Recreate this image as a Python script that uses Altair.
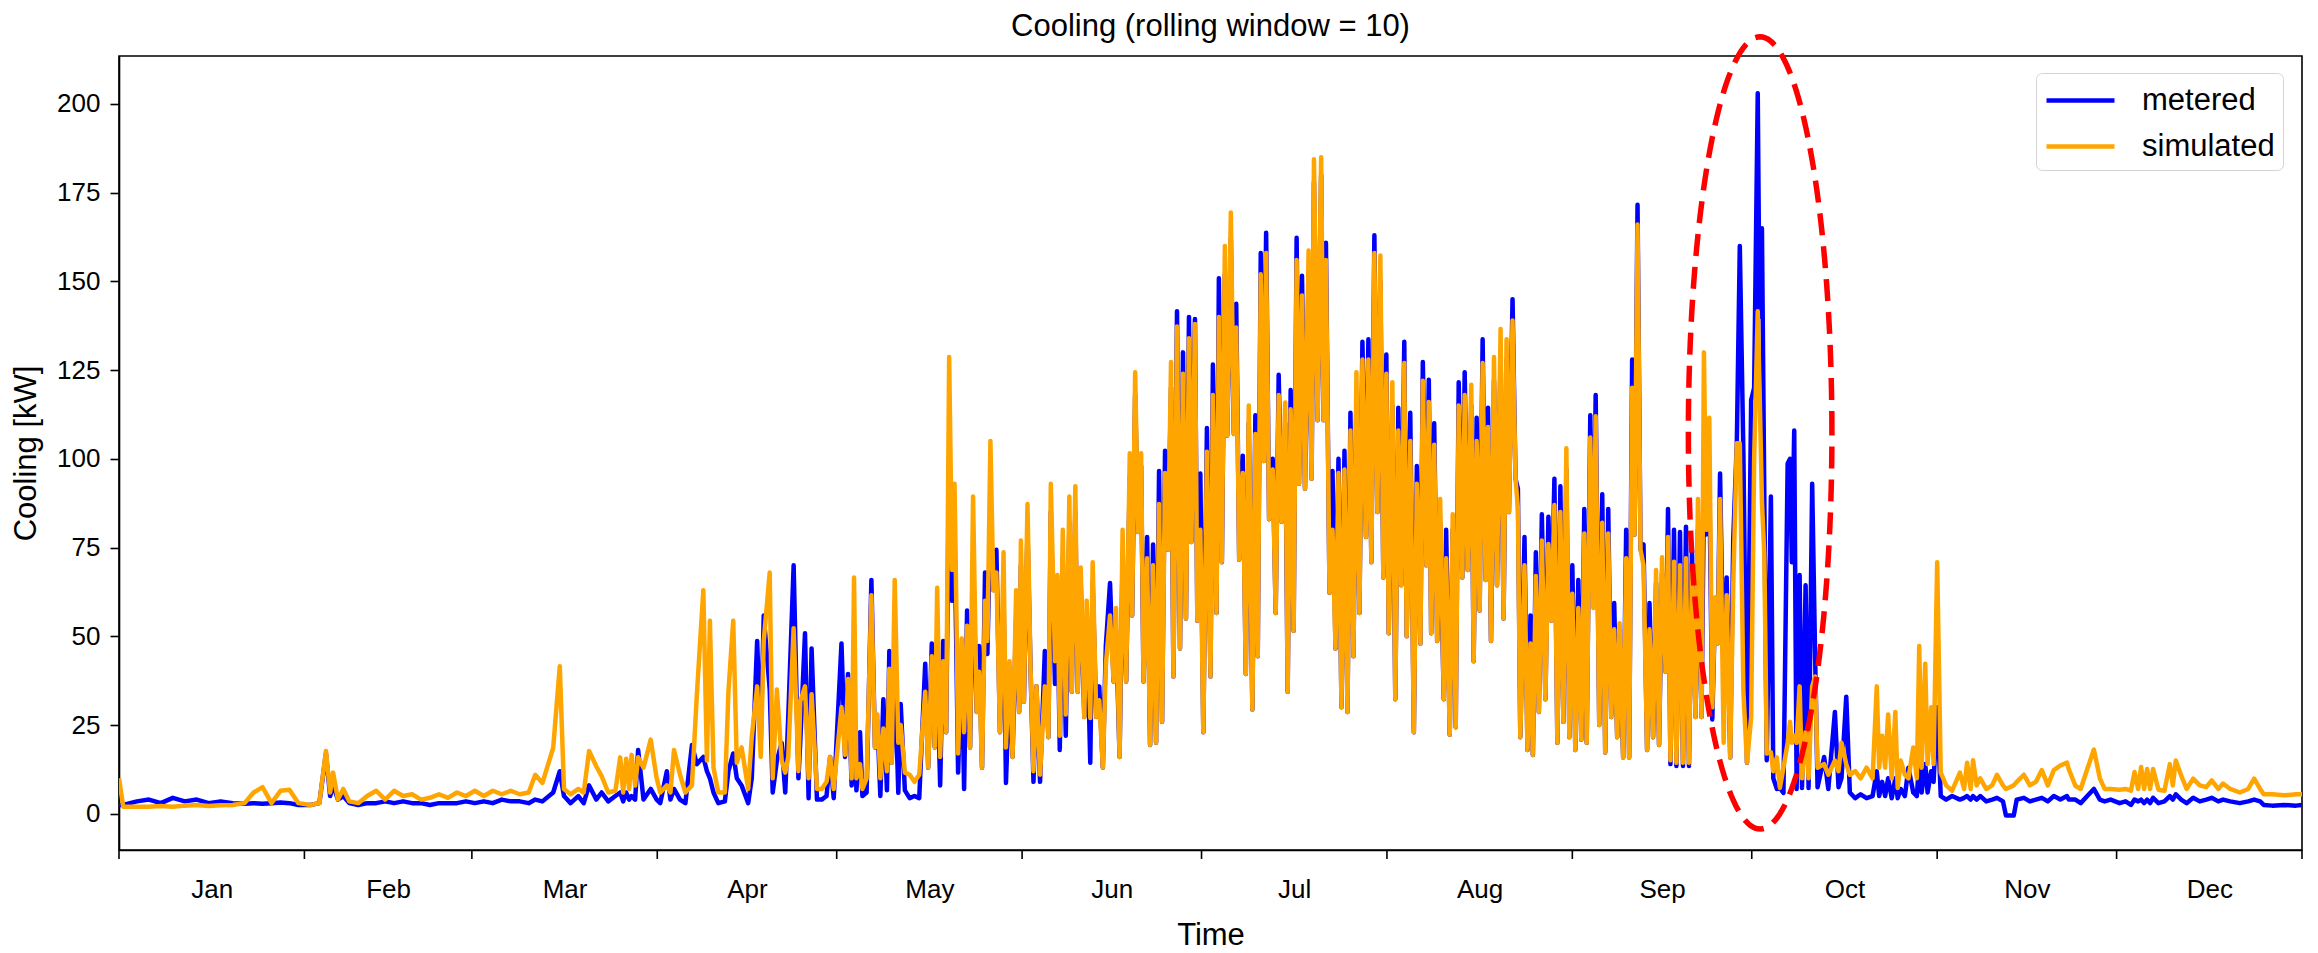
import altair as alt
import pandas as pd

# ---- data (day of year, kW) ----
day_jan = [0, 0.7, 3, 5, 7, 9, 11, 13, 15, 17, 19, 21, 22.5, 24, 25.5, 27, 28.5, 30]
met_jan = [2.5, 2.5, 3.5, 4, 3, 4.5, 3.5, 4, 3, 3.5, 3, 2.8, 3, 2.8, 3, 3.2, 3, 2.5]
sim_jan = [10, 2, 2, 2, 2.2, 2, 2.3, 2.5, 2.2, 2.4, 2.5, 3, 6, 7.5, 3, 6.5, 6.8, 3]

day_feb = [32, 33.5, 34.6, 35.3, 35.8, 36.6, 37.5, 38.5, 40, 41.5, 43, 44.5, 46, 47.5, 49, 50.5, 52, 53.5, 55, 56.5, 58]
met_feb = [2.5, 3, 17, 5, 8, 4, 5, 3, 2.5, 3, 3, 3.5, 3, 3.5, 3, 3, 2.5, 3, 3, 3, 3.5]
sim_feb = [2.5, 3, 17.7, 6, 11.6, 4, 7, 3.5, 3, 5, 6.5, 4, 6.5, 5, 5.5, 4, 4.5, 5.5, 4.5, 6, 5]

day_mar = [59.5, 61, 62.5, 64, 65.5, 67, 68.5, 69.6, 70.8, 72.6, 73.7, 74.4, 75.5, 76.8, 77.7, 78.6, 79.8, 80.7,
           81.8, 83, 83.8, 84.3, 84.8, 85.3, 85.7, 86.3, 86.8, 87.7, 88.9, 89.9]
met_mar = [3, 3.5, 3, 4, 3.5, 3.5, 3, 4, 3.5, 6, 12, 5, 3, 5, 3, 8, 4, 6,
           3.5, 5, 6, 3.5, 6, 4, 5, 4, 18, 4, 7, 4]
sim_mar = [6.5, 5, 6.5, 5.5, 6.5, 5.5, 6, 11, 8.7, 18.6, 41.6, 7, 5.5, 7, 6, 17.7, 13.4, 10.6,
           6, 6.5, 15.9, 6, 15.5, 7, 16.6, 8, 15.9, 13, 20.9, 10]

day_apr = [90.5, 91.6, 92.2, 92.8, 93.8, 94.7, 95.8, 96.6, 97.7, 98.3, 98.8, 99.4, 100.2, 101.3, 101.9, 102.7,
           103.3, 104.1, 105.2, 105.8, 106.7, 107.3, 107.8, 108.8, 109.3, 110, 110.8, 111.4, 111.9, 112.8,
           113.6, 113.9, 114.7, 115.3, 115.8, 116.7, 117.5, 118.3, 118.9, 119.5]
met_apr = [3, 12, 4, 7, 4, 3, 19.4, 14, 16, 12, 10, 6, 3, 3.5, 12, 17,
           10, 8, 3, 10, 48.7, 20, 55.9, 35, 6, 15, 20, 6, 27.3, 70,
           10, 20, 50.9, 4.4, 46.6, 4, 4, 5, 16, 4.4]
sim_apr = [6, 8, 6, 18, 11, 6, 8, 33, 63, 15, 54.4, 13, 6, 6, 34.4, 54.4,
           14.4, 18.7, 7, 21.6, 35.9, 16, 48.7, 68, 10, 35, 15, 11.6, 16, 52.3,
           12, 31.6, 35.9, 10, 33.7, 7, 7, 9, 16, 7]

day_may = [120.8, 121.4, 121.9, 122.5, 122.9, 123.3, 123.9, 124.3, 125, 125.8, 126.4, 126.8, 127.3, 127.8,
           128.4, 128.8, 129.2, 129.7, 130.3, 130.7, 131.4, 132.2, 133, 133.8, 134.8, 135.3, 135.9, 136.4,
           136.8, 137.3, 137.8, 138.3, 138.8, 139.3, 139.7, 140.1, 140.3, 140.9, 141.3, 141.8, 142.3, 142.8,
           143.4, 143.8, 144.3, 144.8, 145.2, 145.7, 146.2, 146.7, 147.3, 147.9, 148.3, 148.9, 149.4, 150, 150.5]
met_may = [48, 16, 39.4, 8, 30, 6.6, 23, 5, 6, 65.9, 18.7, 26, 5, 32.3,
           6.6, 45.9, 14.4, 40, 5.9, 30.9, 6.6, 4.4, 5, 4.4, 42.3, 13, 48, 18.7,
           40, 8, 48.7, 23, 100, 60, 80, 35, 11.6, 45, 7, 57.3, 18.7, 70,
           28.7, 47.3, 13, 68, 45, 85, 63, 74.4, 23, 62, 8.7, 38, 16, 55, 28.7]
sim_may = [30, 16.6, 38, 10, 66.6, 10, 14, 7, 10, 61.6, 18.7, 28, 10, 24,
           12, 40.9, 14.4, 65.9, 20, 25, 11.6, 11, 9, 11, 34.4, 13, 44.4, 18.7,
           63.7, 16, 43, 23, 128.7, 68.7, 93, 47, 17, 49.4, 23, 53, 18.7, 89.4,
           28.7, 40, 13, 60, 48.7, 105, 63, 68, 23, 73.7, 18.7, 43, 16, 63, 28.7]

day_jun = [150.8, 151.3, 151.9, 152.4, 152.9, 153.4, 154, 154.8, 155.4, 155.8, 156.5, 156.9, 157.3, 157.8,
           158.3, 158.9, 159.3, 159.9, 160.3, 160.8, 161.4, 161.8, 162.4, 162.8, 163.4, 163.9, 164.5, 165,
           165.7, 166.3, 166.7, 167.3, 167.8, 168.4, 169, 169.4, 169.9, 170.4, 170.9, 171.3, 171.9, 172.4,
           172.9, 173.4, 173.9, 174.4, 174.9, 175.4, 175.9, 176.3, 176.9, 177.4, 177.9, 178.4, 178.9, 179.3,
           179.9, 180.3, 180.8]
met_jun = [70, 31.6, 80, 41.6, 9, 35.9, 9, 45.9, 21.6, 85, 36.6, 60, 18, 72,
           22, 82, 34.4, 85, 34.4, 65, 27.3, 55, 14.4, 65, 27.3, 35.9, 13, 47.3,
           65, 37.3, 52, 16, 72, 37.3, 95, 55.9, 118, 79.4, 98, 37.3, 78, 19.4,
           75.9, 20, 96.6, 25.9, 102.3, 74.4, 120, 38.7, 141.6, 46.6, 130, 55, 140, 76.6,
           139.4, 54.4, 95.9]
sim_jun = [77, 31.6, 87.3, 41.6, 12, 35.9, 11, 35.9, 21.6, 93, 43, 67.3, 22, 80,
           28, 89.4, 34.4, 92.3, 34.4, 69.4, 27.3, 60, 27, 70.9, 27.3, 32, 13, 42,
           55.9, 37.3, 58, 16, 80, 37.3, 101.6, 55.9, 124.4, 79.4, 101.6, 37.3, 72, 19.4,
           70, 20, 87.3, 25.9, 96, 74.4, 127.3, 38.7, 137.3, 46.6, 124, 55, 134, 76.6,
           138, 54.4, 80]

day_jul = [181.3, 181.9, 182.5, 182.9, 183.5, 183.9, 184.4, 184.9, 185.3, 185.9, 186.4, 186.8, 187.3, 187.9,
           188.4, 188.9, 189.5, 190, 190.4, 190.9, 191.4, 191.8, 192.3, 192.9, 193.4, 193.9, 194.4, 195,
           195.4, 195.9, 196.4, 196.9, 197.3, 197.8, 198.3, 198.9, 199.4, 199.8, 200.4, 201, 201.4, 201.8,
           202.4, 202.9, 203.4, 203.9, 204.4, 204.9, 205.4, 205.9, 206.4, 206.9, 207.4, 207.9, 208.5, 208.9,
           209.4, 209.9, 210.4, 210.9, 211.4, 211.9]
met_jul = [23, 108.7, 38.7, 126.6, 56.6, 150.9, 70.9, 152, 106.6, 162, 107, 143.7, 71.6, 100.9,
           39.4, 110, 29.4, 112.3, 44.4, 158, 99.4, 163.7, 83, 100, 56.6, 123.7, 82.3, 110,
           34.4, 119.4, 51.6, 162.3, 93, 151.6, 91.6, 152, 94.4, 178, 110.9, 180, 110.9, 160.9,
           62.3, 96.6, 46.6, 100, 30, 102.3, 28.7, 113, 44.4, 118, 56.6, 133, 78, 133.7,
           70.9, 163, 85, 150, 66.6, 129.4]
sim_jul = [23, 102, 38.7, 118, 56.6, 140, 70.9, 160, 106.6, 169.4, 107, 137, 71.6, 96,
           39.4, 115, 29.4, 107, 44.4, 152, 99.4, 158, 83, 97, 56.6, 118, 82.3, 115.9,
           34.4, 114, 51.6, 156, 93, 146, 91.6, 158.7, 94.4, 184.4, 110.9, 185, 110.9, 156,
           62.3, 80, 46.6, 96, 30, 97, 28.7, 108, 44.4, 124.4, 56.6, 128, 78, 128,
           70.9, 158, 85, 157.3, 66.6, 124]

day_aug = [212.3, 212.9, 213.4, 213.9, 214.4, 214.9, 215.3, 215.9, 216.5, 217, 217.6, 218, 218.6, 219,
           219.4, 219.9, 220.4, 220.9, 221.5, 221.9, 222.5, 223, 223.5, 224, 224.6, 225, 225.5, 226.1,
           226.5, 227, 227.5, 228, 228.5, 228.9, 229.4, 229.9, 230.4, 231, 231.5, 232, 232.4, 233,
           233.5, 233.9, 234.3, 235, 235.5, 236, 236.4, 236.9, 237.4, 237.9, 238.5, 239, 239.5, 240,
           240.5, 241, 241.5, 242, 242.5]
met_aug = [50.9, 115, 32.3, 114.4, 64.4, 133, 50, 113, 23, 98, 48, 127.3, 70, 122.3,
           50.9, 110, 48.7, 82, 32.3, 80, 22.3, 80, 24.4, 121.6, 66.6, 124.4, 68.7, 115,
           43, 111.6, 57.3, 133.7, 65.9, 114.4, 48.7, 122, 64.4, 130, 55, 128, 85, 145,
           94.4, 91.6, 21.6, 78, 18, 55.9, 16.6, 73.7, 28.7, 84.4, 32.3, 83.7, 54.4, 94.4,
           20, 92.3, 25.9, 97, 21.6]
sim_aug = [50.9, 121.6, 32.3, 108, 64.4, 127, 50, 105, 23, 93, 48, 122, 70, 116,
           50.9, 104, 48.7, 88.7, 32.3, 72, 22.3, 84.4, 24.4, 115, 66.6, 118, 68.7, 120.9,
           43, 105, 57.3, 127, 65.9, 109, 48.7, 128.7, 64.4, 136.6, 55, 133.7, 85, 139,
           94.4, 86, 21.6, 70, 18, 48, 16.6, 67, 28.7, 77, 32.3, 76, 54.4, 87,
           20, 85, 25.9, 103, 21.6]

day_sep = [243, 243.5, 244, 244.5, 245, 245.4, 246, 246.5, 246.9, 247.5, 248, 248.5, 249, 249.5,
           250, 250.5, 250.9, 251.5, 252, 252.5, 253, 253.4, 253.9, 254.4, 254.9, 255.5, 255.9, 256.5,
           257, 257.5, 258, 258.6, 259, 259.4, 260, 260.4, 261, 261.5, 262, 262.5, 263, 263.6,
           264, 264.6, 265, 265.4, 265.9, 266.4, 266.9, 267.3, 267.7, 268.3, 268.8, 269.4, 269.9, 270.5,
           271, 271.6, 272.2, 272.9]
met_sep = [70, 18, 65.9, 20.9, 85.9, 20, 112.3, 60, 118, 25, 90, 17.3, 85.9, 27.3,
           59.4, 21.6, 50, 15.9, 80, 15.9, 128, 78.7, 171.6, 74.4, 75.9, 18, 59.4, 21.6,
           65, 19.4, 68, 40, 85.9, 14, 80, 13.5, 79.4, 13.5, 80.9, 13.5, 74.4, 27.3,
           80, 27.3, 90, 78.7, 95, 26.6, 60.9, 48, 95.9, 37.3, 66.6, 15.9, 77.3, 104.4,
           160, 101.6, 14.4, 116.6]
sim_sep = [62, 18, 58, 20.9, 79, 20, 106, 58, 112, 25, 82, 17.3, 79, 27.3,
           52, 21.6, 53.7, 15.9, 72, 15.9, 120, 78.7, 166, 74.4, 70, 18, 52, 21.6,
           68.7, 19.4, 72.3, 40, 78, 15.1, 71, 14.4, 70, 14.4, 72, 14.4, 68, 27.3,
           88.7, 27.3, 130, 80, 111.6, 30, 60.9, 48, 88.7, 20, 61.6, 15.9, 64.4, 104.4,
           104.4, 34.4, 14.4, 27.3]

day_oct = [273.4, 274, 274.3, 274.7, 275.1, 275.5, 276.2, 276.6, 277.2, 277.7, 278.3, 279, 279.4, 279.7,
           280.1, 280.5, 281, 281.4, 282, 282.5, 283.1, 283.6, 284, 285.1, 285.8, 286.9, 287.5, 288,
           288.8, 289.4, 290.3, 291.2, 292.2, 293.2, 293.9, 294.3, 294.8, 295.3, 295.8, 296.4, 297, 297.4,
           297.9, 298.6, 299.2, 300, 300.6, 301, 301.4, 302, 302.4, 303, 303.4, 304, 304.6]
met_oct = [120, 203, 140, 165, 88.7, 15.1, 89.4, 10, 7, 7.3, 5.9, 98.7, 100, 70.9,
           108, 7, 67.3, 7.3, 64.4, 7.3, 93, 43.7, 7.5, 16, 7, 28.7, 7.5, 10,
           33, 6, 4.4, 5.5, 4.4, 5, 12, 5, 9, 5, 10, 4.4, 10, 4.4,
           7, 5, 13, 6, 5, 15, 6, 14, 6, 12, 9, 30, 5]
sim_oct = [100, 141.6, 120, 88, 73, 17, 17.3, 12, 15.9, 7.3, 13, 20, 25.9, 20,
           22, 20, 35.9, 10, 23, 10, 35.9, 38.7, 13, 14, 11, 15, 12, 20,
           14, 11, 12, 10, 13, 10, 35.9, 13, 22, 13, 28, 10, 28.7, 7.3,
           15, 11, 10, 18.7, 10, 47.3, 13, 42.3, 14, 30, 14, 70.9, 11.6]

day_nov = [305.5, 306.5, 307.8, 308.5, 309, 309.6, 310, 310.6, 311.2, 312.2, 313.2, 314, 315, 315.5,
           316.8, 317.3, 318.5, 319.5, 320.5, 321.5, 322.5, 323.5, 324.6, 325.7, 326, 327.1, 328, 329.1,
           330.2, 331.2, 332, 333]
met_nov = [4, 5, 4, 4.5, 5, 4, 5, 4, 5, 3.5, 4, 4.5, 3.5, -0.5,
           -0.5, 4, 4.5, 3.5, 4, 4.5, 3.5, 5, 4, 5, 4, 4, 3, 5,
           7, 4, 3.5, 4]
sim_nov = [8, 6.5, 11.6, 7, 14.4, 7, 15.1, 8, 10, 7, 8, 11, 8, 7,
           8, 9, 11, 8, 9, 12.3, 8, 12.3, 13.6, 14.4, 12.6, 7.9, 7, 12.6,
           18.1, 10, 7, 7]

day_dec = [334.5, 335.5, 336.4, 337, 337.6, 338.1, 338.6, 339.1, 339.6, 340.1, 341, 342, 342.9, 343.4,
           343.9, 344.8, 345.7, 346.8, 347.9, 349, 349.9, 351, 351.8, 353, 354.6, 356, 357, 358,
           358.6, 360, 362, 364, 365]
met_dec = [3, 3.5, 2.5, 4, 3.5, 4, 3, 4, 3, 4.5, 3, 3.5, 5, 4,
           5.5, 4, 3, 4.5, 3.5, 4, 4.5, 3.5, 4, 3.5, 3, 3.5, 4, 3.5,
           2.5, 2.3, 2.5, 2.3, 2.5]
sim_dec = [6.8, 7, 6.5, 11.8, 7, 13.2, 7, 12.6, 7, 12.6, 6.8, 6.5, 14, 8,
           15, 10.8, 7, 9.9, 8, 7.5, 9.4, 7, 8.5, 7, 6, 7, 9.9, 7,
           5.5, 5.5, 5.2, 5.5, 5.5]

# texts, axis labels / ticks
chart_title = "Cooling (rolling window = 10)"
month_names = ["Jan", "Feb", "Mar", "Apr", "May", "Jun", "Jul", "Aug", "Sep", "Oct", "Nov", "Dec"]
month_starts = [0, 31, 59, 90, 120, 151, 181, 212, 243, 273, 304, 334, 365]
y_ticks = [0, 25, 50, 75, 100, 125, 150, 175, 200]

# annotation ellipse (data units: centre day, centre kW, half-width days, half-height kW)
ell_cx, ell_cy, ell_a, ell_b = 274.4, 107.3, 12.0, 111.6

# ---- build table ----
months = [
    (day_jan, met_jan, sim_jan), (day_feb, met_feb, sim_feb), (day_mar, met_mar, sim_mar),
    (day_apr, met_apr, sim_apr), (day_may, met_may, sim_may), (day_jun, met_jun, sim_jun),
    (day_jul, met_jul, sim_jul), (day_aug, met_aug, sim_aug), (day_sep, met_sep, sim_sep),
    (day_oct, met_oct, sim_oct), (day_nov, met_nov, sim_nov), (day_dec, met_dec, sim_dec),
]
rows = []
for series, idx in (("metered", 1), ("simulated", 2)):
    for grp in months:
        n = min(len(grp[0]), len(grp[1]), len(grp[2]))
        for i in range(n):
            rows.append({"day": grp[0][i], "series": series, "value": grp[idx][i]})
df = pd.DataFrame(rows)

mid_days = [(month_starts[i] + month_starts[i + 1]) / 2 for i in range(12)]
label_expr = "[" + ",".join(f"'{m}'" for m in month_names) + "][floor(datum.value / 30.42)]"

W, H = 2183, 794
FONT = "Liberation Sans"
LW = 4.5

xscale = alt.Scale(domain=[0, 365], nice=False, zero=False)
yscale = alt.Scale(domain=[-10.2, 213.5], nice=False, zero=False)
color = alt.Color(
    "series:N",
    scale=alt.Scale(domain=["metered", "simulated"], range=["#0000ff", "#ffa500"]),
    legend=alt.Legend(
        orient="none", legendX=1917, legendY=17, title=None,
        symbolType="M-1,0H3", symbolSize=1156, symbolStrokeWidth=4.5,
        labelFontSize=31, labelFont=FONT, labelOffset=59, labelColor="black",
        rowPadding=11, padding=8, strokeColor="#d3d3d3", cornerRadius=6, fillColor="white",
    ),
)

xaxis = alt.Axis(values=mid_days, labelExpr=label_expr, ticks=False, tickSize=0, labelPadding=26,
                 labelFontSize=26, labelFont=FONT, labelColor="black", title="Time", titleFontSize=31,
                 titleFont=FONT, titleFontWeight="normal", titleColor="black", titlePadding=18,
                 grid=False, domainColor="black", domainWidth=1.6, labelAngle=0)
yaxis = alt.Axis(values=y_ticks, tickSize=9, tickWidth=1.6, tickColor="black", labelPadding=10,
                 labelFontSize=26, labelFont=FONT, labelColor="black", title="Cooling [kW]",
                 titleFontSize=31, titleFont=FONT, titleFontWeight="normal", titleColor="black",
                 titlePadding=14, grid=False, domainColor="black", domainWidth=1.6)

base = alt.Chart(df)
met = base.transform_filter("datum.series == 'metered'").mark_line(
    strokeWidth=LW, strokeJoin="round", clip=True
).encode(x=alt.X("day:Q", scale=xscale, axis=xaxis), y=alt.Y("value:Q", scale=yscale, axis=yaxis), color=color)
sim = base.transform_filter("datum.series == 'simulated'").mark_line(
    strokeWidth=LW, strokeJoin="round", clip=True
).encode(x=alt.X("day:Q", scale=xscale), y=alt.Y("value:Q", scale=yscale), color=color)

ticks = alt.Chart(pd.DataFrame({"day": month_starts})).mark_rule(
    color="black", strokeWidth=1.6, clip=False
).encode(x=alt.X("day:Q", scale=xscale), y=alt.value(H), y2=alt.value(H + 9))

ellipse = alt.Chart(alt.sequence(0, 361, 2, as_="t")).transform_calculate(
    ex=f"{ell_cx} + {ell_a} * cos(datum.t * PI / 180)",
    ey=f"{ell_cy} + {ell_b} * sin(datum.t * PI / 180)",
).mark_line(color="#ff0000", strokeWidth=5.5, strokeDash=[22, 11], clip=False).encode(
    x=alt.X("ex:Q", scale=xscale), y=alt.Y("ey:Q", scale=yscale), order="t:Q"
)

title_mark = alt.Chart(pd.DataFrame({"t": [chart_title]})).mark_text(
    font=FONT, fontSize=31, color="black", align="center", baseline="alphabetic", clip=False
).encode(text="t:N", x=alt.value(W / 2), y=alt.value(-20))

chart = alt.layer(met, sim, ticks, ellipse, title_mark).properties(
    width=W, height=H,
    autosize=alt.AutoSizeParams(type="none"),
    padding={"left": 119, "top": 56, "right": 16, "bottom": 103},
    background="white",
).configure_view(stroke="black", strokeWidth=1.6)

chart.save("out.html", embed_options={"renderer": "svg", "actions": False})
